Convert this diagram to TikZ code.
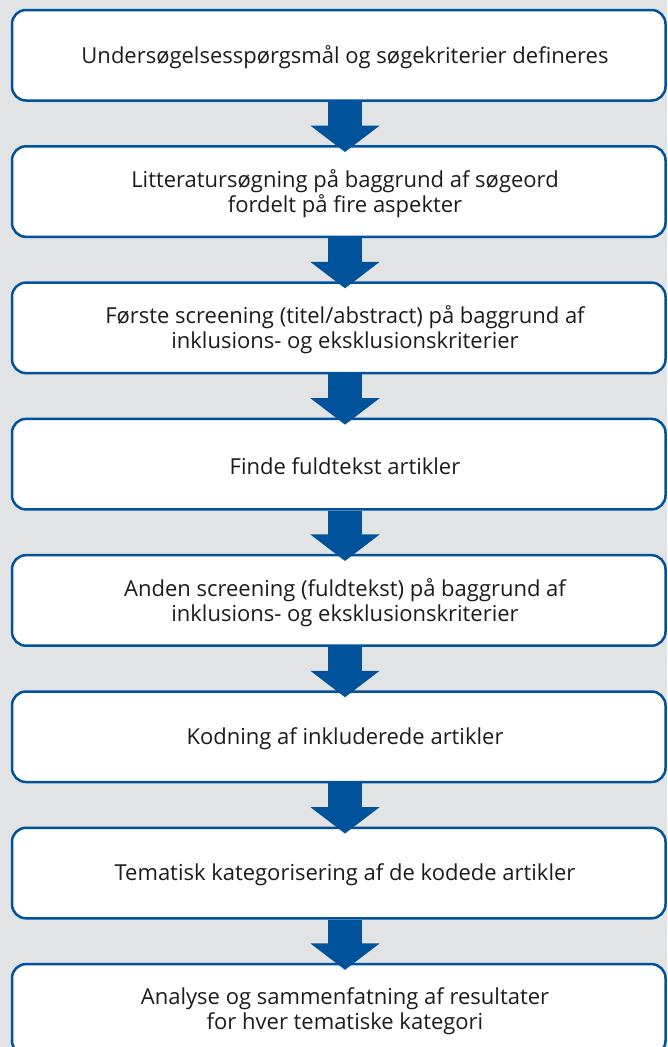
\documentclass[tikz,border=0pt]{standalone}
\usepackage{fontspec}
\setmainfont{Open Sans}
\usetikzlibrary{arrows.meta,calc}
\definecolor{bgc}{HTML}{E2E3E5}
\definecolor{bluec}{HTML}{00529B}
\definecolor{txtc}{HTML}{1C1C1C}
\tikzset{
  stepbox/.style={draw=bluec, line width=2.5pt, fill=white, rounded corners=14pt,
    minimum width=653.5pt, minimum height=90.5pt, inner sep=0pt},
  steptext/.style={text=txtc, align=center, inner sep=0pt, yshift=-2pt,
    font=\fontsize{22pt}{25.5pt}\selectfont},
  flowarrow/.style={draw=bluec, line width=33.4pt,
    -{Triangle[width=68pt,length=26.5pt]}, shorten >=-7pt}
}
\begin{document}
\begin{tikzpicture}[x=1pt,y=-1pt]
\fill[bgc] (0,0) rectangle (667,1047);
\useasboundingbox (0,0) rectangle (667,1047);
\begin{scope}
\clip (0,0) rectangle (667,1047);
\coordinate (mid) at (345,0);
\foreach \i/\t in {1/10,2/146.3,3/282.6,4/418.9,5/555.2,6/691.5,7/827.8,8/964.1}{
  \node[stepbox] (b\i) at (338.75,\t+45.25) {};
}
\node[steptext] (t1) at (mid |- b1) {Undersøgelsesspørgsmål og søgekriterier defineres};
\node[steptext] (t2) at (mid |- b2) {Litteratursøgning på baggrund af søgeord\\fordelt på fire aspekter};
\node[steptext] (t3) at (mid |- b3) {Første screening (titel/abstract) på baggrund af\\inklusions- og eksklusionskriterier};
\node[steptext] (t4) at (mid |- b4) {Finde fuldtekst artikler};
\node[steptext] (t5) at (mid |- b5) {Anden screening (fuldtekst) på baggrund af\\inklusions- og eksklusionskriterier};
\node[steptext] (t6) at (mid |- b6) {Kodning af inkluderede artikler};
\node[steptext] (t7) at (mid |- b7) {Tematisk kategorisering af de kodede artikler};
\node[steptext] (t8) at (mid |- b8) {Analyse og sammenfatning af resultater\\for hver tematiske kategori};
\foreach \i/\j in {1/2,2/3,3/4,4/5,5/6,6/7,7/8}{
  \draw[flowarrow] (t\i |- b\i.south) -- (t\j |- b\j.north);
}
\end{scope}
\end{tikzpicture}
\end{document}
